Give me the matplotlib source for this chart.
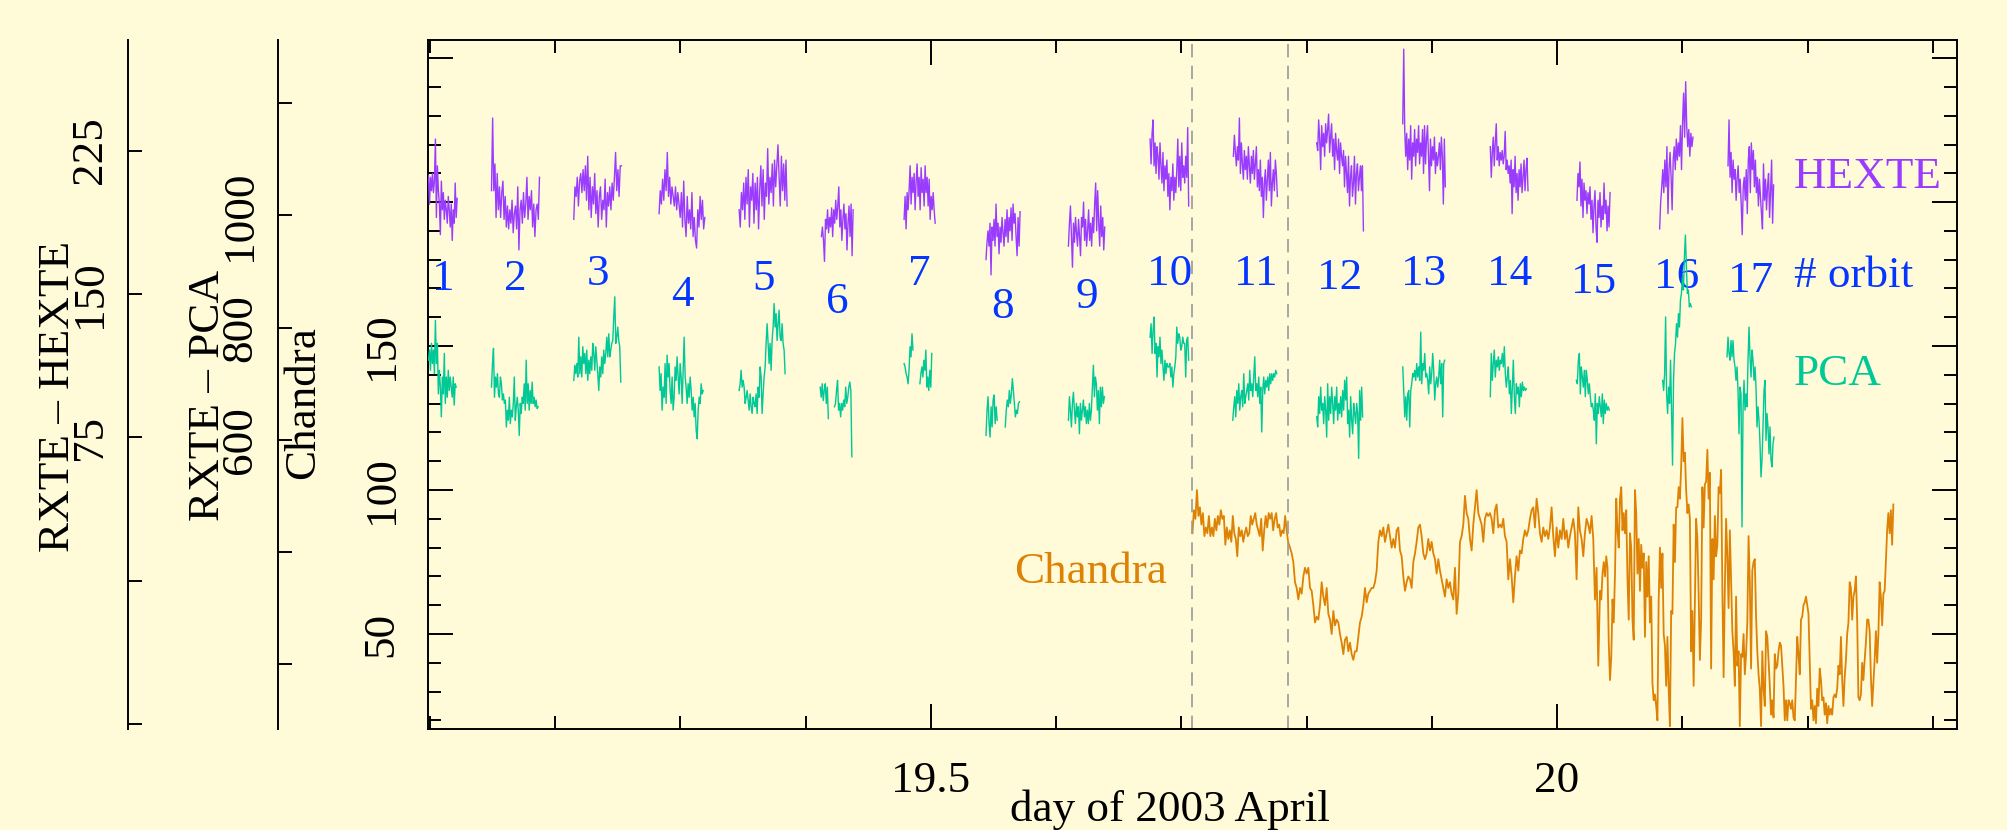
import numpy as np
import matplotlib.pyplot as plt
from matplotlib.ticker import MultipleLocator

gap = np.nan

# RXTE orbits: first and last day (2003 April) of each HEXTE / PCA segment
hexte_spans = [
    (19.0990, 19.1219), (19.1493, 19.1876), (19.2150, 19.2530), (19.2831, 19.3196),
    (19.3470, 19.3853), (19.4127, 19.4380), (19.4787, 19.5035), (19.5441, 19.5713),
    (19.6099, 19.6389), (19.6751, 19.7059), (19.7416, 19.7767), (19.8081, 19.8454),
    (19.8768, 19.9108), (19.9467, 19.9768), (20.0159, 20.0423), (20.0819, 20.1085),
    (20.1365, 20.1729),
]
pca_spans = [
    (19.0990, 19.1211), (19.1493, 19.1865), (19.2150, 19.2525), (19.2831, 19.3183),
    (19.3470, 19.3837), (19.4117, 19.4370), (19.4787, 19.5008), (19.5441, 19.5708),
    (19.6099, 19.6386), (19.6751, 19.7059), (19.7411, 19.7762), (19.8081, 19.8448),
    (19.8768, 19.9103), (19.9467, 19.9755), (20.0154, 20.0417), (20.0843, 20.1072),
    (20.1357, 20.1732),
]

hexte_rates = [
    [212, 197, 211, 204, 213, 203, 209, 231, 190, 217, 204, 197, 181, 209, 194, 203, 189, 199, 194, 187,
     201, 194, 185, 197, 178, 194, 187, 208, 190, 200],
    [204, 242, 204, 218, 190, 213, 194, 206, 190, 203, 209, 189, 201, 185, 196, 184, 194, 187, 199, 182,
     192, 196, 184, 206, 173, 194, 199, 187, 203, 190, 197, 211, 189, 201, 194, 204, 185, 197, 180, 194,
     197, 189, 211],
    [189, 206, 201, 211, 196, 209, 213, 203, 215, 204, 217, 199, 222, 194, 211, 190, 206, 197, 213, 192,
     204, 185, 201, 206, 189, 199, 194, 210, 185, 203, 196, 206, 194, 208, 199, 211, 224, 204, 215, 201,
     217, 217],
    [192, 204, 197, 210, 199, 215, 204, 224, 201, 211, 197, 206, 201, 196, 206, 194, 203, 197, 190, 203,
     185, 209, 189, 180, 201, 187, 194, 184, 203, 180, 190, 178, 174, 194, 185, 201, 189, 199, 184, 190],
    [194, 185, 203, 194, 208, 189, 211, 197, 215, 185, 206, 199, 213, 187, 208, 194, 211, 184, 204, 217,
     196, 215, 189, 208, 201, 226, 197, 211, 203, 218, 196, 220, 206, 217, 228, 211, 196, 222, 204, 218,
     199, 220, 196],
    [180, 185, 178, 167, 189, 184, 194, 182, 190, 185, 195, 180, 194, 187, 199, 189, 196, 206, 185, 194,
     178, 189, 197, 184, 192, 173, 187, 196, 180, 197, 170, 194],
    [189, 201, 184, 203, 194, 204, 217, 197, 211, 203, 213, 194, 209, 218, 201, 211, 194, 216, 203, 210,
     196, 217, 203, 211, 196, 210, 189, 201, 194, 203, 194, 187],
    [168, 177, 183, 175, 187, 160, 185, 178, 189, 175, 197, 180, 187, 171, 185, 177, 190, 182, 175, 189,
     180, 194, 177, 190, 183, 195, 178, 197, 187, 192, 180, 170, 190, 175, 193],
    [175, 187, 196, 180, 164, 187, 177, 190, 182, 175, 189, 180, 170, 190, 185, 198, 178, 189, 175, 183,
     194, 178, 187, 175, 190, 182, 197, 208, 183, 204, 187, 175, 196, 180, 190, 173, 185],
    [231, 218, 234, 241, 217, 229, 213, 227, 222, 210, 229, 217, 208, 224, 204, 217, 210, 220, 201, 213,
     194, 211, 204, 218, 199, 211, 203, 215, 231, 206, 222, 204, 229, 211, 217, 208, 222, 211, 237, 196],
    [222, 233, 224, 217, 227, 220, 242, 213, 229, 218, 210, 225, 215, 222, 210, 227, 217, 208, 222, 213,
     225, 210, 218, 227, 206, 215, 204, 220, 201, 211, 190, 208, 215, 199, 210, 220, 204, 224, 196, 208,
     215, 204, 220, 213, 201],
    [229, 225, 241, 231, 215, 238, 227, 234, 222, 239, 229, 236, 244, 224, 232, 239, 222, 231, 215, 234,
     225, 220, 231, 213, 229, 222, 217, 225, 206, 222, 213, 203, 222, 196, 211, 217, 201, 208, 222, 197,
     213, 218, 204, 211, 217, 204, 217, 183],
    [239, 278, 236, 222, 234, 215, 231, 220, 238, 210, 229, 222, 236, 217, 231, 224, 238, 218, 229, 222,
     236, 213, 238, 218, 231, 238, 222, 204, 231, 217, 227, 220, 232, 213, 224, 217, 222, 229, 215, 232,
     222, 197, 231, 206],
    [227, 211, 224, 232, 217, 229, 239, 220, 227, 217, 224, 220, 225, 218, 222, 235, 215, 220, 213, 217,
     208, 220, 192, 215, 206, 222, 203, 213, 199, 215, 206, 218, 203, 211, 220, 204, 215, 221, 204],
    [199, 213, 206, 219, 196, 210, 190, 208, 199, 204, 192, 203, 197, 206, 189, 199, 182, 196, 204, 185,
     177, 199, 190, 203, 185, 196, 189, 208, 192, 199, 183, 196, 185, 203],
    [184, 198, 206, 215, 203, 220, 206, 227, 192, 215, 224, 211, 194, 220, 227, 215, 231, 220, 229, 222,
     238, 215, 239, 255, 232, 261, 238, 227, 236, 222, 234, 227, 232],
    [217, 241, 211, 224, 203, 220, 210, 215, 199, 211, 217, 203, 210, 197, 181, 206, 211, 199, 215, 192,
     220, 227, 203, 229, 215, 225, 206, 220, 203, 211, 196, 210, 201, 192, 184, 218, 199, 210, 194, 206,
     213, 190, 204, 220, 187, 207],
]

pca_rates = [
    [742, 760, 724, 772, 736, 760, 718, 813, 736, 772, 682, 724, 694, 641, 712, 682, 754, 665, 712, 676,
     724, 688, 712, 694, 676, 712, 662, 700, 694],
    [694, 736, 763, 676, 712, 694, 718, 682, 676, 712, 700, 671, 682, 665, 671, 623, 653, 635, 676, 629,
     653, 641, 665, 712, 635, 659, 676, 653, 608, 665, 647, 676, 665, 700, 653, 742, 665, 700, 653, 688,
     665, 703, 665, 676, 659, 671, 656, 659],
    [706, 733, 718, 736, 712, 783, 718, 748, 712, 766, 736, 754, 718, 760, 706, 742, 718, 748, 724, 772,
     754, 724, 766, 742, 718, 688, 730, 712, 748, 718, 760, 736, 754, 783, 748, 789, 748, 760, 772, 777,
     819, 855, 772, 783, 801, 777, 766, 703],
    [730, 688, 718, 653, 694, 676, 736, 665, 751, 712, 736, 688, 665, 712, 653, 676, 730, 706, 748, 712,
     682, 736, 712, 665, 724, 783, 712, 694, 665, 700, 676, 712, 688, 653, 676, 641, 665, 617, 602, 653,
     676, 665, 700, 682, 688],
    [688, 700, 724, 694, 706, 694, 665, 676, 688, 671, 653, 682, 659, 647, 676, 665, 659, 682, 647, 694,
     676, 730, 712, 647, 682, 712, 730, 772, 807, 772, 736, 772, 724, 777, 801, 843, 801, 825, 777, 807,
     831, 783, 777, 807, 772, 760, 718],
    [694, 676, 700, 670, 688, 700, 665, 694, 638, gap, gap, gap, gap, gap, 659, 665, 688, 706, 653, 665,
     641, 665, 653, 671, 659, 694, 665, 676, 694, 703, 688, 570],
    [736, 730, 718, 712, 700, 724, 766, 748, 789, 760, gap, gap, gap, gap, gap, gap, 700, 718, 730, 712,
     742, 724, 760, 694, 712, 688, 724, 694, 754],
    [608, 653, 677, 629, 605, 659, 623, 671, 680, 629, 659, 635, gap, gap, gap, gap, gap, gap, gap, 623,
     653, 671, 659, 688, 665, 682, 709, 688, 665, 641, 653, 647, 665, 668],
    [635, 677, 653, 623, 665, 685, 653, 629, 665, 641, 659, 611, 665, 635, 653, 671, 641, 659, 629, 653,
     629, 665, 635, 653, 694, 733, 677, 712, 700, 653, 688, 629, 694, 659, 694, 665, 677],
    [783, 807, 754, 795, 819, 754, 772, 712, 766, 748, 783, 736, 760, 730, 706, 742, 718, 736, 730, 730,
     736, 712, 730, 694, 718, 730, 748, 801, 772, 789, 783, 760, 766, 783, 772, 772, 712, 778, 783, 742],
    [635, 659, 677, 641, 688, 665, 700, 653, 677, 688, 659, 718, 665, 677, 688, 700, 671, 724, 688, 700,
     677, 712, 748, 688, 700, 677, 712, 665, 694, 614, 688, 712, 682, 706, 694, 712, 688, 718, 700, 718,
     706, 718, 712, 724, 718],
    [641, 623, 677, 647, 694, 653, 665, 629, 677, 653, 605, 700, 635, 677, 647, 694, 665, 629, 677, 653,
     694, 635, 665, 647, 677, 641, 688, 653, 706, 671, 712, 629, 653, 605, 677, 635, 611, 665, 647, 629,
     665, 647, 567, 688, 635, 694, 641],
    [730, 688, 641, 677, 635, 682, 688, 623, 688, 700, 718, 712, 724, 706, 736, 712, 730, 706, 792, 700,
     736, 724, 754, 712, 718, 706, 682, 730, 700, 718, 754, 724, 671, 700, 712, 694, 712, 742, 700, 736,
     641, 736, 742],
    [677, 754, 706, 736, 760, 712, 742, 730, 748, 724, 742, 736, 754, 730, 766, 718, 694, 712, 730, 682,
     706, 647, 694, 742, 677, 647, 700, 682, 694, 659, 700, 677, 703, 688, 694, 688, 691],
    [706, 700, 742, 754, 682, 730, 712, 694, 724, 677, 724, 706, 682, 700, 677, 659, 665, 653, 635, 682,
     593, 665, 647, 677, 659, 641, 682, 629, 671, 647, 665, 653, 659, 653],
    [706, 688, 718, 819, 682, 647, 694, 665, 742, 653, 555, 706, 754, 771, 807, 783, 825, 801, 849, 861,
     890, 867, 926, 965, 908, 861, 867, 837, 843, 837],
    [748, 783, 754, 742, 777, 748, 777, 742, 730, 706, 730, 688, 611, 694, 682, 445, 653, 706, 653, 682,
     659, 742, 801, 748, 712, 760, 742, 706, 730, 694, 623, 659, 635, 593, 534, 564, 623, 688, 706, 599,
     647, 623, 575, 623, 564, 552, 593, 605],
]

# Chandra light curve, in three stretches of evenly spaced bins
chandra_spans = [(19.7089, 19.7853), (19.7868, 20.0329), (20.0343, 20.2685)]
chandra_rates = [
    [85, 93, 90, 100, 91, 94, 88, 92, 84, 87, 85, 91, 84, 87, 84, 90, 86, 91, 88, 93,
     90, 91, 81, 87, 83, 86, 82, 91, 85, 83, 77, 87, 84, 86, 82, 85, 87, 84, 85, 91,
     88, 90, 92, 88, 86, 84, 90, 79, 86, 91, 87, 92, 90, 92, 86, 90, 92, 87, 88, 84,
     86, 85, 91, 86, 82],
    [80, 78, 75, 68, 66, 62, 66, 64, 70, 73, 71, 73, 66, 65, 60, 54, 56, 55, 60, 68,
     63, 60, 66, 57, 55, 50, 58, 53, 55, 54, 50, 47, 43, 48, 49, 44, 47, 43, 41, 44,
     44, 49, 54, 56, 60, 66, 61, 64, 65, 66, 66, 68, 72, 82, 86, 84, 87, 82, 85, 88,
     84, 80, 83, 80, 86, 87, 79, 77, 70, 65, 68, 70, 69, 66, 75, 78, 82, 87, 88, 84,
     78, 76, 78, 83, 79, 82, 78, 76, 71, 76, 72, 69, 66, 63, 69, 66, 68, 64, 62, 73,
     57, 64, 82, 84, 88, 98, 92, 90, 83, 79, 88, 94, 100, 92, 90, 88, 82, 90, 92, 91,
     92, 90, 85, 93, 95, 87, 88, 87, 90, 84, 82, 69, 76, 70, 61, 70, 77, 72, 79, 78,
     83, 86, 84, 86, 90, 93, 94, 87, 97, 92, 85, 82, 87, 84, 86, 83, 87, 94, 84, 77,
     87, 80, 86, 83, 90, 83, 86, 80, 84, 87, 90, 85, 69, 94, 86, 83, 77, 85, 90, 88,
     85, 91, 83, 62, 73, 39],
    [65, 62, 71, 75, 70, 77, 73, 47, 34, 42, 62, 54, 71, 97, 86, 80, 97, 101, 86, 92,
     85, 93, 69, 55, 85, 80, 55, 48, 100, 92, 71, 83, 65, 81, 73, 78, 49, 75, 63, 77,
     54, 63, 33, 27, 29, 25, 20, 62, 80, 66, 78, 50, 46, 32, 49, 31, 18, 58, 57, 88,
     75, 94, 94, 101, 97, 108, 125, 110, 113, 100, 92, 95, 90, 44, 58, 32, 62, 90, 83, 64,
     41, 55, 101, 87, 102, 103, 114, 97, 106, 38, 83, 69, 91, 77, 81, 101, 99, 107, 66, 35,
     66, 90, 77, 59, 86, 68, 51, 44, 32, 63, 39, 44, 18, 43, 42, 50, 36, 43, 54, 84,
     68, 38, 72, 75, 76, 56, 44, 36, 31, 18, 44, 31, 25, 51, 49, 41, 32, 22, 27, 21,
     43, 38, 39, 44, 47, 46, 39, 32, 20, 27, 20, 27, 26, 24, 27, 21, 20, 35, 49, 43,
     36, 55, 56, 60, 61, 63, 60, 57, 40, 24, 27, 20, 25, 19, 31, 25, 38, 34, 27, 28,
     22, 26, 19, 25, 22, 24, 22, 28, 29, 28, 31, 39, 36, 49, 34, 25, 35, 41, 50, 54,
     68, 66, 55, 63, 65, 70, 55, 28, 27, 29, 40, 34, 41, 47, 55, 55, 51, 35, 25, 33,
     41, 51, 40, 50, 68, 63, 53, 64, 65, 75, 86, 92, 85, 93, 81, 95],
]

# start and end of the simultaneous window
window_days = [19.7085, 19.7855]

hexte_ticks = [-75, 0, 75, 150, 225]
hexte_ticklabels = ['', '', '75', '150', '225']
pca_ticks = [200, 400, 600, 800, 1000, 1200]
pca_ticklabels = ['', '', '600', '800', '1000', '']
chandra_ticks = [50, 100, 150, 200, 250]
chandra_ticklabels = ['50', '100', '150', '', '']
day_ticks = [19.5, 20.0]
day_ticklabels = ['19.5', '20']

BG = '#fffad7'
HEXTE_C = '#9a3cff'
PCA_C = '#00c896'
CHANDRA_C = '#dd8205'
ORBIT_C = '#0536ff'
LW = 1.4

plt.rcParams['font.family'] = ['Liberation Serif', 'DejaVu Serif']
plt.rcParams['font.size'] = 32.5

fig = plt.figure(figsize=(20.07, 8.30), dpi=100, facecolor=BG)
ax = fig.add_axes([0.2135, 0.1213, 0.7614, 0.8305], facecolor=BG)

t_chandra = np.concatenate([np.linspace(t0, t1, len(r))
                            for (t0, t1), r in zip(chandra_spans, chandra_rates)])
ax.plot(t_chandra, np.concatenate(chandra_rates), color=CHANDRA_C, lw=1.3)
for day in window_days:
    ax.axvline(day, color='#9a9a9a', lw=1.2, ls=(0, (8, 5)))


def side_axis(offset, ylim, ticks, ticklabels, label, label_xy):
    tw = ax.twinx()
    tw.set_ylim(*ylim)
    for side in ('top', 'bottom', 'right'):
        tw.spines[side].set_visible(False)
    spine = tw.spines['left']
    spine.set_visible(True)
    spine.set_position(('axes', offset))
    spine.set_linewidth(LW)
    tw.yaxis.set_ticks_position('left')
    tw.yaxis.set_label_position('left')
    tw.set_yticks(ticks, ticklabels)
    tw.tick_params(axis='y', direction='in', length=10, width=LW, pad=13,
                   labelrotation=90)
    for lab in tw.get_yticklabels():
        lab.set_va('center')
    tw.set_ylabel(label)
    tw.yaxis.set_label_coords(*label_xy)
    return tw


ax_hexte = side_axis(-0.1967, (-77.7, 282.8), hexte_ticks, hexte_ticklabels,
                     'RXTE – HEXTE', (-0.2295, 0.483))
ax_pca = side_axis(-0.0983, (84.4, 1312.4), pca_ticks, pca_ticklabels,
                   'RXTE – PCA', (-0.1313, 0.485))

for (t0, t1), r in zip(hexte_spans, hexte_rates):
    ax_hexte.plot(np.linspace(t0, t1, len(r)), r, color=HEXTE_C, lw=1.0)
for (t0, t1), r in zip(pca_spans, pca_rates):
    ax_pca.plot(np.linspace(t0, t1, len(r)), r, color=PCA_C, lw=1.0)

# orbit numbers sit under each HEXTE segment
orbit_rows = [0.637, 0.637, 0.645, 0.614, 0.637, 0.604, 0.645, 0.596, 0.611,
              0.645, 0.645, 0.639, 0.645, 0.644, 0.633, 0.640, 0.634]
for n, ((t0, t1), row) in enumerate(zip(hexte_spans, orbit_rows), start=1):
    ax.text((t0 + t1) / 2, row, str(n), transform=ax.get_xaxis_transform(),
            ha='center', va='baseline', color=ORBIT_C)

ax.text(0.8936, 0.785, 'HEXTE', transform=ax.transAxes, color=HEXTE_C, va='baseline')
ax.text(0.8936, 0.642, '# orbit', transform=ax.transAxes, color=ORBIT_C, va='baseline')
ax.text(0.8936, 0.4995, 'PCA', transform=ax.transAxes, color=PCA_C, va='baseline')
ax.text(0.3832, 0.2127, 'Chandra', transform=ax.transAxes, color=CHANDRA_C, va='baseline')

ax.set_xlim(19.099, 20.319)
ax.set_ylim(16.9, 256.3)
ax.set_xticks(day_ticks, day_ticklabels)
ax.xaxis.set_minor_locator(MultipleLocator(0.1))
ax.set_yticks(chandra_ticks, chandra_ticklabels)
ax.yaxis.set_minor_locator(MultipleLocator(10))
ax.tick_params(which='both', direction='in', top=True, right=True, left=True,
               bottom=True, width=LW)
ax.tick_params(which='major', length=18)
ax.tick_params(which='minor', length=9.4)
ax.tick_params(axis='x', pad=23)
ax.tick_params(axis='y', pad=19.4, labelrotation=90)
for lab in ax.get_yticklabels():
    lab.set_va('center')
for spine in ax.spines.values():
    spine.set_linewidth(LW)

ax.set_ylabel('Chandra')
ax.yaxis.set_label_coords(-0.0692, 0.4734)
ax.set_xlabel('day of 2003 April')
ax.xaxis.set_label_coords(0.485, -0.0866)

fig.savefig('out.png', dpi=100, facecolor=BG)
